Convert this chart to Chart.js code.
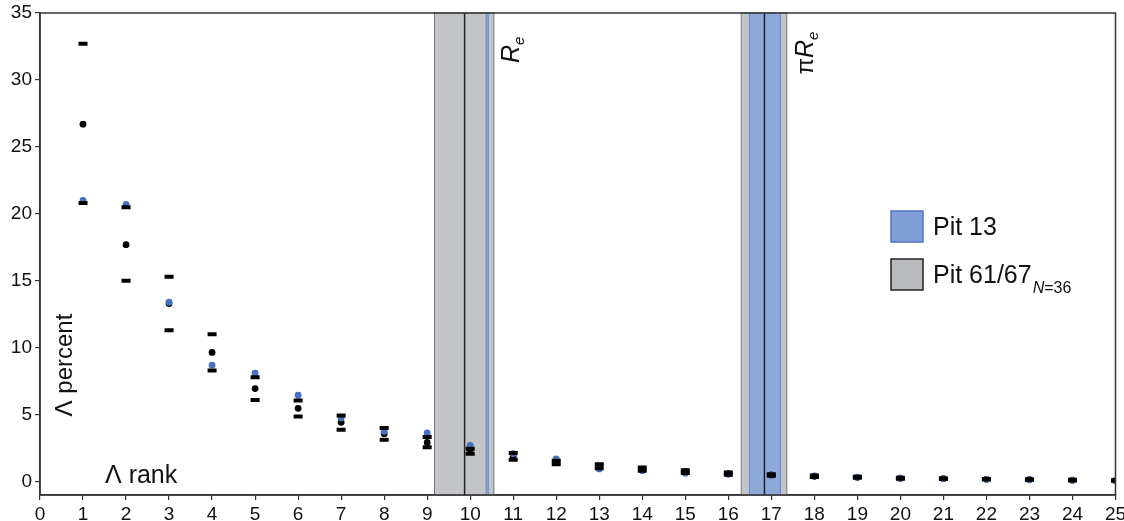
<!DOCTYPE html>
<html>
<head>
<meta charset="utf-8">
<script src="https://cdn.jsdelivr.net/npm/chart.js@4.4.0/dist/chart.umd.min.js"></script>
<style>
  html, body { margin: 0; padding: 0; background: #fff; }
</style>
</head>
<body>
<canvas id="c" width="1124" height="521"></canvas>
<script>
// rank of each lambda value
const ranks = [1,2,3,4,5,6,7,8,9,10,11,12,13,14,15,16,17,18,19,20,21,22,23,24,25];
// Pit 13 (blue dots)
const pit13 = [21.0,20.7,13.4,8.7,8.1,6.45,4.75,3.75,3.63,2.71,2.09,1.69,0.95,0.82,0.62,0.55,0.48,0.42,0.33,0.26,0.21,0.17,0.14,0.1,0.08];
// Pit 61/67 mean (black dots)
const pit6167 = [26.7,17.7,13.3,9.65,6.95,5.47,4.43,3.58,2.93,2.39,1.89,1.45,1.14,0.93,0.75,0.6,0.5,0.4,0.32,0.25,0.22,0.17,0.15,0.1,0.08];
// Pit 61/67 range, upper and lower dashes
const pit6167Hi = [32.7,20.5,15.3,11.0,7.8,6.05,4.93,4.0,3.33,2.46,2.14,1.55,1.3,1.05,0.85,0.68,0.55,0.45,0.36,0.28,0.25,0.2,0.17,0.13,0.1];
const pit6167Lo = [20.8,15.0,11.3,8.3,6.1,4.87,3.88,3.13,2.56,2.09,1.64,1.3,1.0,0.82,0.65,0.52,0.44,0.35,0.28,0.22,0.19,0.15,0.13,0.08,0.06];

// shaded rank ranges (Re and pi*Re)
const grayBands = [[9.17,10.55],[16.30,17.36]];
const blueBands = [[10.37,10.42],[16.49,17.21]];
const midLines = [9.87,16.84];

const xTicks = [0,1,2,3,4,5,6,7,8,9,10,11,12,13,14,15,16,17,18,19,20,21,22,23,24,25];
const yTicks = [0,5,10,15,20,25,30,35];

const FONT = '"Liberation Sans", Arial, sans-serif';

function pts(arr){ return ranks.map((r,i)=>({x:r, y:arr[i]})); }

const bandPlugin = {
  id: 'bands',
  beforeDatasetsDraw(chart){
    const {ctx, chartArea:a, scales:{x}} = chart;
    ctx.save();
    grayBands.forEach(([s,e])=>{
      const x0 = x.getPixelForValue(s), x1 = x.getPixelForValue(e);
      ctx.fillStyle = '#c3c4c7';
      ctx.fillRect(x0, a.top, x1-x0, a.bottom-a.top);
      ctx.strokeStyle = '#777';
      ctx.lineWidth = 1;
      ctx.strokeRect(x0, a.top, x1-x0, a.bottom-a.top);
    });
    blueBands.forEach(([s,e])=>{
      const x0 = x.getPixelForValue(s), x1 = x.getPixelForValue(e);
      ctx.fillStyle = '#8ea8d7';
      ctx.fillRect(x0, a.top, x1-x0, a.bottom-a.top);
      ctx.strokeStyle = '#6a88c8';
      ctx.lineWidth = 1;
      ctx.strokeRect(x0, a.top, x1-x0, a.bottom-a.top);
    });
    midLines.forEach(v=>{
      const px = x.getPixelForValue(v);
      ctx.strokeStyle = '#222';
      ctx.lineWidth = 1.5;
      ctx.beginPath(); ctx.moveTo(px, a.top); ctx.lineTo(px, a.bottom); ctx.stroke();
    });
    ctx.restore();
  },
  afterDraw(chart){
    const {ctx, chartArea:a, scales:{x, y}} = chart;
    ctx.save();
    // frame
    ctx.strokeStyle = '#333';
    ctx.lineWidth = 1.5;
    ctx.strokeRect(a.left, a.top, a.right-a.left, a.bottom-a.top);

    ctx.fillStyle = '#111';
    // rotated subscript labels
    function rotLabel(xv, yv, pre){
      ctx.save();
      ctx.translate(x.getPixelForValue(xv), y.getPixelForValue(yv));
      ctx.rotate(-Math.PI/2);
      ctx.textBaseline = 'alphabetic';
      ctx.textAlign = 'left';
      let off = 0;
      if (pre) {
        ctx.font = '24px ' + FONT;
        ctx.fillText(pre, 0, 0);
        off += ctx.measureText(pre).width;
      }
      ctx.font = 'italic 25px ' + FONT;
      ctx.fillText('R', off, 0);
      off += ctx.measureText('R').width;
      ctx.font = 'italic 15px ' + FONT;
      ctx.fillText('e', off, 5);
      ctx.restore();
    }
    rotLabel(11.13, 31.26, '');
    rotLabel(17.98, 30.4, 'π');

    // axis titles
    ctx.save();
    ctx.font = '24px ' + FONT;
    ctx.translate(72, 365);
    ctx.rotate(-Math.PI/2);
    ctx.textAlign = 'center';
    ctx.fillText('Λ percent', 0, 0);
    ctx.restore();
    ctx.font = '25px ' + FONT;
    ctx.textAlign = 'left';
    ctx.fillText('Λ rank', 105, 483);

    // legend
    ctx.fillStyle = '#7f9fd6';
    ctx.fillRect(891, 211, 32, 31);
    ctx.strokeStyle = '#4f75c4';
    ctx.lineWidth = 1.5;
    ctx.strokeRect(891, 211, 32, 31);
    ctx.fillStyle = '#b9babd';
    ctx.fillRect(891, 259, 32, 31);
    ctx.strokeStyle = '#222';
    ctx.strokeRect(891, 259, 32, 31);
    ctx.fillStyle = '#111';
    ctx.font = '25px ' + FONT;
    ctx.fillText('Pit 13', 933, 235);
    ctx.fillText('Pit 61/67', 933, 283);
    const w = ctx.measureText('Pit 61/67').width;
    ctx.font = 'italic 16px ' + FONT;
    ctx.fillText('N', 933 + w + 1, 293);
    const wn = ctx.measureText('N').width;
    ctx.font = '16px ' + FONT;
    ctx.fillText('=36', 933 + w + 1 + wn, 293);
    ctx.restore();
  }
};

new Chart(document.getElementById('c'), {
  type: 'scatter',
  data: {
    datasets: [
      { label: 'hi', data: pts(pit6167Hi), pointStyle: 'line', pointRadius: 4.5, pointBorderWidth: 4, borderColor: '#000', backgroundColor: '#000' },
      { label: 'lo', data: pts(pit6167Lo), pointStyle: 'line', pointRadius: 4.5, pointBorderWidth: 4, borderColor: '#000', backgroundColor: '#000' },
      { label: 'Pit 13', data: pts(pit13), pointStyle: 'circle', pointRadius: 3.4, pointBorderWidth: 0, backgroundColor: '#4670c2', borderColor: '#4670c2' },
      { label: 'Pit 61/67', data: pts(pit6167), pointStyle: 'circle', pointRadius: 3.4, pointBorderWidth: 0, backgroundColor: '#000', borderColor: '#000' }
    ]
  },
  options: {
    responsive: false,
    animation: false,
    events: [],
    layout: { padding: { top: 13, right: 7, left: 0, bottom: 0 } },
    plugins: { legend: { display: false }, tooltip: { enabled: false } },
    scales: {
      x: {
        type: 'linear', min: 0, max: 25,
        afterFit(s){ s.height = 26; s.paddingRight = 0; s.paddingLeft = 0; },
        afterBuildTicks(s){ s.ticks = xTicks.map(v=>({value:v})); },
        grid: { display: true, drawOnChartArea: false, drawTicks: true, tickLength: 5, color: '#333', lineWidth: 1.2 },
        border: { display: true, color: '#333', width: 1.5 },
        ticks: { padding: 3, color: '#111', font: { family: FONT, size: 19 }, maxRotation: 0, autoSkip: false }
      },
      y: {
        type: 'linear', min: -1, max: 35,
        afterFit(s){ s.width = 40; s.paddingTop = 0; s.paddingBottom = 0; },
        afterBuildTicks(s){ s.ticks = yTicks.map(v=>({value:v})); },
        grid: { display: true, drawOnChartArea: false, drawTicks: true, tickLength: 5, color: '#333', lineWidth: 1.2 },
        border: { display: true, color: '#333', width: 1.5 },
        ticks: { padding: 3, color: '#111', font: { family: FONT, size: 19 } }
      }
    }
  },
  plugins: [bandPlugin]
});
</script>
</body>
</html>
